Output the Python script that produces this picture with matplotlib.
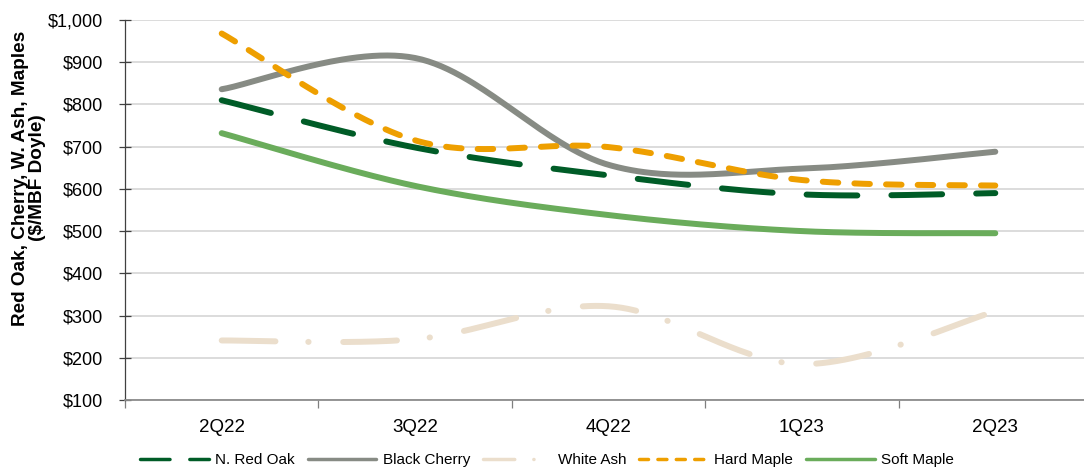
import numpy as np
import matplotlib
matplotlib.use("Agg")
import matplotlib.pyplot as plt
from matplotlib.lines import Line2D
from matplotlib.ticker import FixedLocator, FuncFormatter

quarters = ["2Q22", "3Q22", "4Q22", "1Q23", "2Q23"]
red_oak = [810, 698, 632, 587, 590]
black_cherry = [836, 910, 657, 648, 688]
white_ash = [241, 244, 322, 185, 310]
hard_maple = [968, 715, 699, 621, 608]
soft_maple = [732, 607, 538, 500, 495]

series = [
    ("N. Red Oak", red_oak, "#005C27", (0, (8.5, 5.7))),
    ("Black Cherry", black_cherry, "#878B84", "-"),
    ("White Ash", white_ash, "#EBDECC", (0, (9.0, 5.5, 0.05, 5.8))),
    ("Hard Maple", hard_maple, "#EE9F00", (0, (2.6, 2.7))),
    ("Soft Maple", soft_maple, "#6AAC5B", "-"),
]


def smooth(xs, ys, n=60):
    """Cubic Bezier smoothing through every point (Catmull-Rom tangents)."""
    p = np.column_stack([xs, ys]).astype(float)
    ext = np.vstack([p[0], p, p[-1]])
    out = []
    t = np.linspace(0, 1, n)[:, None]
    for i in range(len(p) - 1):
        p0, p1, p2, p3 = ext[i], ext[i + 1], ext[i + 2], ext[i + 3]
        c1 = p1 + (p2 - p0) / 6.0
        c2 = p2 - (p3 - p1) / 6.0
        seg = ((1 - t) ** 3) * p1 + 3 * ((1 - t) ** 2) * t * c1 \
            + 3 * (1 - t) * t ** 2 * c2 + t ** 3 * p2
        out.append(seg if i == 0 else seg[1:])
    arr = np.vstack(out)
    return arr[:, 0], arr[:, 1]


plt.rcParams["font.family"] = ["Liberation Sans", "DejaVu Sans"]

W, H = 1084, 472
fig = plt.figure(figsize=(W / 100, H / 100), dpi=100)
ax = fig.add_axes([125 / W, (H - 400) / H, 967 / W, 380 / H])

x = np.arange(len(quarters))
lw = 4.3
for name, vals, color, ls in series:
    sx, sy = smooth(x, vals)
    ax.plot(sx, sy, color=color, lw=lw, ls=ls, solid_capstyle="round",
            dash_capstyle="round", label=name, zorder=3)

ax.set_xlim(-0.5, len(quarters) - 0.5)
ax.set_ylim(100, 1000)
ax.set_yticks(np.arange(100, 1001, 100))
ax.yaxis.set_major_formatter(FuncFormatter(lambda v, _: f"${v:,.0f}"))
ax.grid(axis="y", color="#D9D9D9", lw=1.3, zorder=0)
ax.set_axisbelow(True)

ax.set_xticks(x)
ax.set_xticklabels(quarters)
ax.xaxis.set_minor_locator(FixedLocator(np.arange(-0.5, len(quarters), 1.0)))
ax.tick_params(axis="x", which="major", length=0, pad=14, labelsize=13.5)
ax.tick_params(axis="x", which="minor", length=6, width=0.9, color="#7F7F7F")
ax.tick_params(axis="y", direction="inout", length=8.6, width=0.9, labelsize=13,
               pad=11.5, color="#404040")

for s in ("top", "right"):
    ax.spines[s].set_visible(False)
ax.spines["left"].set_color("#404040")
ax.spines["left"].set_linewidth(0.9)
ax.spines["bottom"].set_color("#8C8C8C")
ax.spines["bottom"].set_linewidth(1.3)

fig.text(29 / W, (H - 178) / H, "Red Oak, Cherry, W. Ash, Maples\n($/MBF Doyle)",
         fontsize=13.7, fontweight="bold", linespacing=1.05, rotation=90,
         ha="center", va="center", multialignment="center")

handles = [Line2D([], [], color=c, lw=2.5, ls=ls, solid_capstyle="round",
                  dash_capstyle="round") for _, _, c, ls in series]
labels = [s[0] for s in series]
fig.legend(handles, labels, loc="center", bbox_to_anchor=(547 / W, (H - 460) / H),
           ncol=5, frameon=False, fontsize=11, handlelength=4.5,
           handletextpad=0.4, columnspacing=0.85, borderpad=0)

fig.savefig("out.png", dpi=100)
